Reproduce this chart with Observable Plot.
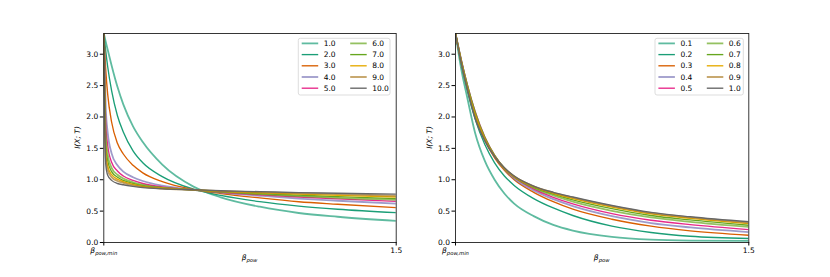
<!DOCTYPE html>
<html><head><meta charset="utf-8">
<script src="https://cdn.jsdelivr.net/npm/d3@7"></script>
<script src="https://cdn.jsdelivr.net/npm/@observablehq/plot@0.6"></script>
<style>
body{margin:0;background:#fff;}
#fig{position:relative;width:830px;height:277px;overflow:hidden;font-family:"DejaVu Sans",sans-serif;}
#fig svg{position:absolute;top:0;}
</style></head><body><div id="fig"></div>
<script>
// ---------- data ----------
const yTicks = [0, 0.5, 1.0, 1.5, 2.0, 2.5, 3.0];
const xTicks = [0, 1.5];

// left panel
const xLeft = [0, 0.01, 0.02, 0.04, 0.07, 0.1, 0.15, 0.2, 0.3, 0.46, 0.6, 0.8, 1.0, 1.2, 1.5];
const leftLabels = ["1.0","2.0","3.0","4.0","5.0","6.0","7.0","8.0","9.0","10.0"];
const L1 = [3.33, 3.2, 3.07, 2.82, 2.48, 2.2, 1.85, 1.6, 1.24, 0.89, 0.72, 0.57, 0.47, 0.41, 0.343];
const L2 = [3.33, 3.05, 2.8, 2.42, 2.02, 1.76, 1.46, 1.27, 1.05, 0.85, 0.75, 0.65, 0.58, 0.53, 0.476];
const L3 = [3.33, 2.75, 2.36, 1.92, 1.58, 1.41, 1.23, 1.11, 0.97, 0.845, 0.78, 0.71, 0.65, 0.61, 0.555];
const L4 = [3.33, 2.15, 1.75, 1.42, 1.23, 1.13, 1.04, 0.98, 0.905, 0.84, 0.795, 0.745, 0.70, 0.665, 0.62];
const L5 = [3.33, 1.9, 1.55, 1.28, 1.14, 1.06, 0.99, 0.94, 0.885, 0.84, 0.80, 0.76, 0.725, 0.695, 0.655];
const L6 = [3.33, 1.7, 1.40, 1.19, 1.08, 1.02, 0.96, 0.92, 0.875, 0.84, 0.805, 0.77, 0.74, 0.71, 0.68];
const L7 = [3.33, 1.55, 1.30, 1.13, 1.04, 0.99, 0.94, 0.905, 0.87, 0.84, 0.81, 0.78, 0.755, 0.73, 0.70];
const L8 = [3.33, 1.45, 1.22, 1.08, 1.01, 0.97, 0.925, 0.895, 0.865, 0.84, 0.815, 0.79, 0.77, 0.75, 0.725];
const L9 = [3.33, 1.35, 1.15, 1.04, 0.98, 0.95, 0.91, 0.885, 0.86, 0.84, 0.82, 0.80, 0.785, 0.77, 0.745];
const L10 = [3.33, 1.25, 1.07, 0.99, 0.94, 0.92, 0.895, 0.875, 0.855, 0.84, 0.825, 0.81, 0.795, 0.785, 0.77];

// right panel
const xRight = [0, 0.03, 0.06, 0.1, 0.15, 0.2, 0.25, 0.3, 0.4, 0.5, 0.6, 0.8, 1.0, 1.2, 1.5];
const rightLabels = ["0.1","0.2","0.3","0.4","0.5","0.6","0.7","0.8","0.9","1.0"];
const R1 = [3.33, 2.75, 2.31, 1.75, 1.3, 1.0, 0.78, 0.62, 0.42, 0.28, 0.19, 0.09, 0.045, 0.03, 0.025];
const R2 = [3.33, 2.83, 2.42, 1.97, 1.56, 1.27, 1.06, 0.91, 0.70, 0.55, 0.43, 0.26, 0.16, 0.10, 0.063];
const R3 = [3.33, 2.88, 2.48, 2.04, 1.63, 1.35, 1.15, 1.0, 0.80, 0.65, 0.53, 0.37, 0.26, 0.185, 0.116];
const R4 = [3.33, 2.89, 2.50, 2.06, 1.65, 1.37, 1.17, 1.02, 0.83, 0.69, 0.58, 0.42, 0.31, 0.24, 0.165];
const R5 = [3.33, 2.90, 2.52, 2.09, 1.68, 1.39, 1.18, 1.04, 0.85, 0.72, 0.615, 0.46, 0.355, 0.285, 0.206];
const R6 = [3.33, 2.89, 2.51, 2.08, 1.67, 1.385, 1.18, 1.045, 0.87, 0.75, 0.65, 0.505, 0.40, 0.33, 0.25];
const R7 = [3.33, 2.88, 2.50, 2.06, 1.66, 1.38, 1.18, 1.05, 0.88, 0.77, 0.68, 0.54, 0.43, 0.36, 0.275];
const R8 = [3.33, 2.87, 2.48, 2.04, 1.65, 1.375, 1.18, 1.05, 0.89, 0.785, 0.70, 0.565, 0.455, 0.385, 0.30];
const R9 = [3.33, 2.86, 2.46, 2.01, 1.635, 1.37, 1.185, 1.055, 0.895, 0.795, 0.715, 0.58, 0.47, 0.40, 0.315];
const R10 = [3.33, 2.85, 2.45, 1.98, 1.62, 1.37, 1.19, 1.06, 0.90, 0.80, 0.725, 0.59, 0.48, 0.41, 0.33];

// styles
const colors = ["#1b9e77","#1b9e77","#d95f02","#7570b3","#e7298a","#66a61e","#66a61e","#e6ab02","#a6761d","#666666"];
const opacities = [0.7, 1, 1, 0.7, 1, 0.7, 1, 1, 0.7, 1];
const widths = [1.8, 1.35, 1.35, 1.8, 1.35, 1.8, 1.35, 1.35, 1.8, 1.35];

const leftSeries = [L1,L2,L3,L4,L5,L6,L7,L8,L9,L10];
const rightSeries = [R1,R2,R3,R4,R5,R6,R7,R8,R9,R10];

const FONT = 7.5;

function sub(textSel, main, subText, sizeMain) {
  textSel.text(null);
  textSel.append("tspan").attr("font-style","italic").text(main);
  textSel.append("tspan").attr("font-style","italic").attr("font-size", sizeMain*0.7).attr("dy","0.3em").text(subText);
}

function panel(xs, seriesArr, labels, cfg) {
  const marks = seriesArr.map((ys, i) => Plot.line(ys.map((y, j) => ({x: xs[j], y})), {
    x: "x", y: "y", stroke: colors[i], strokeOpacity: opacities[i], strokeWidth: widths[i], curve: "monotone-x", clip: true
  }));
  const svg = Plot.plot({
    width: 415, height: 277,
    marginLeft: cfg.ml, marginRight: cfg.mr, marginTop: 33, marginBottom: 35,
    style: {fontFamily: "DejaVu Sans, sans-serif", fontSize: FONT + "px", color: "#000", background: "transparent"},
    x: {domain: [0, 1.5]},
    y: {domain: [0, 3.33]},
    marks: [
      ...marks,
      Plot.frame({stroke: "#222", strokeWidth: 0.9}),
      Plot.axisX({ticks: xTicks, tickSize: 3.5, tickPadding: 2, label: null, tickFormat: d => d === 0 ? "β" : d3.format(".1f")(d)}),
      Plot.axisY({ticks: yTicks, tickSize: 3.5, tickPadding: 2, label: null, tickFormat: d3.format(".1f")})
    ]
  });
  const s = d3.select(svg);
  s.selectAll('g[aria-label="x-axis tick label"] text').each(function() {
    const t = d3.select(this);
    if (t.text() === "β") sub(t, "β", "pow,min", FONT);
  });
  const cx = cfg.ml + (415 - cfg.ml - cfg.mr) / 2;
  const xlab = s.append("text").attr("x", cx).attr("y", 260).attr("text-anchor", "middle")
    .attr("font-size", FONT).attr("font-family", "DejaVu Sans, sans-serif");
  sub(xlab, "β", "pow", FONT);
  s.append("text").attr("transform", `translate(${cfg.yl},137.5) rotate(-90)`).attr("text-anchor", "middle")
    .attr("font-size", FONT).attr("font-style", "italic").attr("font-family", "DejaVu Sans, sans-serif")
    .text("I(X; T)");
  const lg = s.append("g").attr("font-size", FONT).attr("font-family", "DejaVu Sans, sans-serif").attr("text-anchor", "start");
  lg.append("rect").attr("x", cfg.lx).attr("y", 38.3).attr("width", cfg.lw).attr("height", 56.7)
    .attr("rx", 2).attr("fill", "#fff").attr("fill-opacity", 0.85).attr("stroke", "#d4d4d4").attr("stroke-width", 0.8);
  labels.forEach((lab, i) => {
    const col = i < 5 ? 0 : 1, row = i % 5;
    const y = 43.4 + row * 11.2;
    const x0 = cfg.lx + 3.4 + col * cfg.colw;
    lg.append("line").attr("x1", x0).attr("x2", x0 + 16.5).attr("y1", y).attr("y2", y)
      .attr("stroke", colors[i]).attr("stroke-opacity", opacities[i]).attr("stroke-width", widths[i]);
    lg.append("text").attr("x", x0 + 22).attr("y", y).attr("dy", "0.35em").attr("text-anchor", "start").text(lab);
  });
  svg.style.left = cfg.left + "px";
  return svg;
}

const fig = document.getElementById("fig");
fig.appendChild(panel(xLeft, leftSeries, leftLabels, {ml: 103.3, mr: 19.3, yl: 80, lx: 298.3, lw: 91.7, colw: 48.5, left: 0}));
fig.appendChild(panel(xRight, rightSeries, rightLabels, {ml: 40, mr: 81.7, yl: 17, lx: 240, lw: 88.3, colw: 48.4, left: 415}));
</script></body></html>
